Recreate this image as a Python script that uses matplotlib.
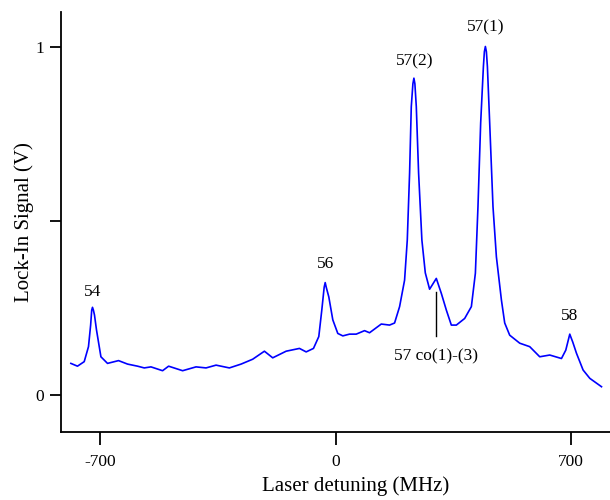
import numpy as np
import matplotlib
matplotlib.use("Agg")
import matplotlib.pyplot as plt

plt.rcParams['font.family'] = ['Liberation Serif', 'DejaVu Serif']

# laser detuning (MHz) and lock-in signal (V)
detuning = [-785.7, -766.1, -746.1, -733.4, -727.0, -723.8, -721.5, -718.8, -715.6, -709.6,
            -696.5, -676.9, -644.2, -617.4, -587.7, -567.8, -547.9, -513.4, -495.5, -453.9,
            -414.1, -384.4, -354.6, -315.1, -280.3, -245.8, -211.1, -186.4, -146.6, -107.0,
            -87.1, -65.4, -49.6, -40.7, -33.6, -30.6, -27.6, -19.9, -8.0, 6.8,
            21.7, 41.6, 61.5, 86.2, 101.1, 135.9, 160.5, 175.4, 190.3, 205.1,
            213.1, 220.0, 225.0, 229.8, 232.8, 235.7, 239.9, 246.7, 256.5, 266.6,
            279.4, 299.3, 314.2, 329.1, 343.9, 358.8, 383.5, 403.4, 415.3, 423.0,
            431.0, 439.1, 442.0, 445.0, 448.0, 451.0, 457.8, 467.6, 477.7, 492.6,
            502.4, 517.2, 547.0, 576.7, 606.4, 636.1, 670.9, 683.7, 693.5, 695.6,
            698.6, 704.5, 715.5, 735.1, 755.1, 789.8]
signal = [0.091, 0.083, 0.096, 0.139, 0.201, 0.244, 0.252, 0.244, 0.230, 0.187,
          0.110, 0.091, 0.099, 0.089, 0.083, 0.078, 0.081, 0.070, 0.083, 0.070,
          0.081, 0.078, 0.086, 0.078, 0.089, 0.103, 0.126, 0.107, 0.126, 0.134,
          0.124, 0.134, 0.168, 0.244, 0.310, 0.323, 0.310, 0.282, 0.216, 0.177,
          0.170, 0.175, 0.175, 0.185, 0.179, 0.204, 0.201, 0.207, 0.254, 0.330,
          0.445, 0.638, 0.828, 0.894, 0.910, 0.894, 0.828, 0.638, 0.445, 0.351,
          0.304, 0.335, 0.292, 0.244, 0.201, 0.201, 0.220, 0.254, 0.350, 0.541,
          0.781, 0.943, 0.986, 1.001, 0.986, 0.943, 0.781, 0.541, 0.397, 0.273,
          0.207, 0.172, 0.149, 0.139, 0.110, 0.115, 0.105, 0.129, 0.167, 0.175,
          0.167, 0.152, 0.120, 0.072, 0.048, 0.024]

# peak labels
peak_names = ['54', '56', '57(2)', '57(1)', '58']
peak_x = [-720, -30, 235, 446, 696]
peak_y = [0.296, 0.376, 0.957, 1.057, 0.227]

fig = plt.figure(figsize=(6.1, 5.0), dpi=100)
ax = fig.add_axes([0.1, 0.136, 0.9, 0.84])

ax.plot(detuning, signal, color='#0000ff', lw=1.2)

for name, x, y in zip(peak_names, peak_x, peak_y):
    ax.text(x, y, name, ha='center', va='center', fontsize=12.5)

# side band marker
ax.plot([297, 297], [0.170, 0.296], color='black', lw=1)
ax.text(297, 0.112, '57 co(1)-(3)', ha='center', va='center', fontsize=12.5)

ax.set_xlim(-815, 815)
ax.set_ylim(-0.106, 1.10)
ax.set_xticks([-700, 0, 700])
ax.set_xticklabels(['-700', '0', '700'])
ax.set_yticks([0, 0.5, 1])
ax.set_yticklabels(['0', '', '1'])

for s in ['top', 'right']:
    ax.spines[s].set_visible(False)
for s in ['left', 'bottom']:
    ax.spines[s].set_linewidth(1.3)
ax.tick_params(axis='both', direction='out', width=1.3, labelsize=12.5)
ax.tick_params(axis='y', length=8, pad=4)
ax.tick_params(axis='x', length=9, pad=7)

ax.set_xlabel('Laser detuning (MHz)', fontsize=15)
ax.set_ylabel('Lock-In Signal (V)', fontsize=15)
ax.xaxis.set_label_coords(0.537, -0.105)
ax.yaxis.set_label_coords(-0.05, 0.5)

plt.savefig('out.png', dpi=100)
